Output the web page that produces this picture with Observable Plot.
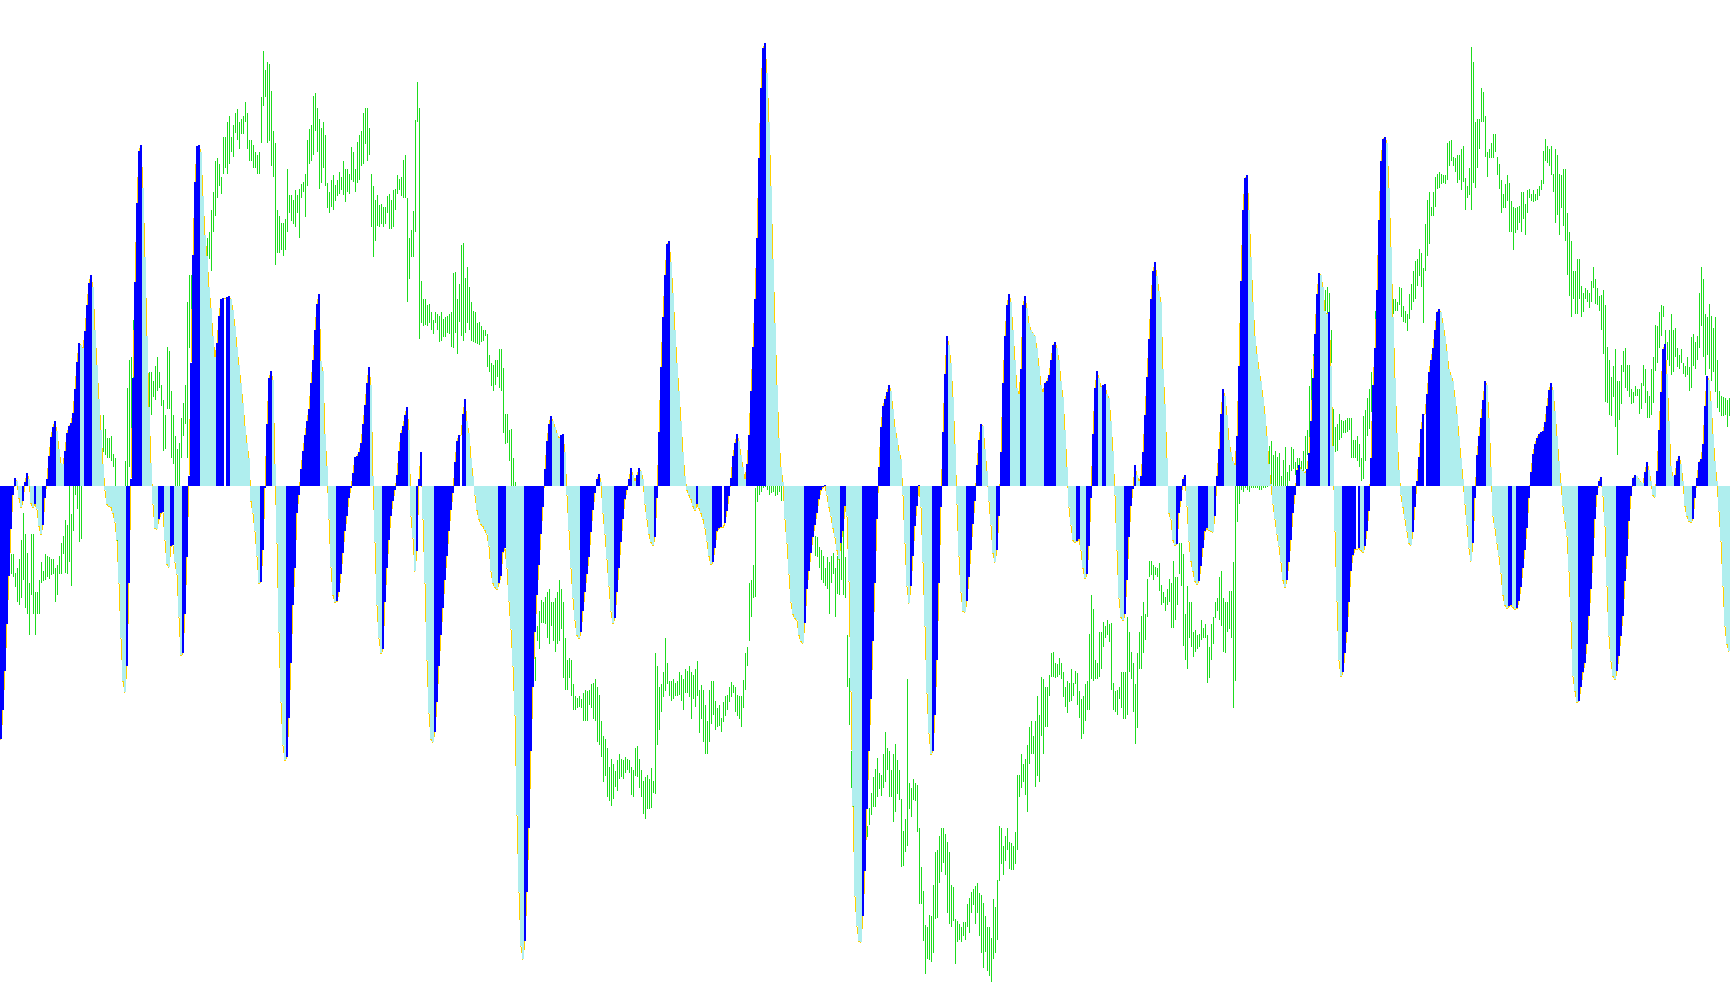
<!DOCTYPE html>
<html><head><meta charset="utf-8">
<script src="https://cdn.jsdelivr.net/npm/d3@7"></script>
<script src="https://cdn.jsdelivr.net/npm/@observablehq/plot@0.6"></script>
<style>html,body{margin:0;padding:0;background:#fff;overflow:hidden}svg{display:block}</style>
</head><body><div id="chart"></div>
<script>
// Oscillator histogram values, one per bar
const histogram = [
-253,-224,-185,-138,-90,-43,-9,8,5,-12,-21,-15,4,13,7,-17,-21,-18,-23,-40,
-48,-39,-12,7,30,49,59,65,55,37,23,22,35,53,60,63,73,97,124,143,
141,138,155,181,203,211,199,156,121,87,56,22,-4,-18,-20,-21,-27,-36,-54,-97,
-152,-195,-206,-180,-97,7,108,204,283,335,341,298,229,150,79,23,-18,-42,-43,-33,
-27,-26,-54,-78,-81,-60,-59,-76,-88,-131,-169,-167,-128,-71,10,123,231,304,340,341,
334,290,251,230,199,178,150,129,143,170,187,188,188,189,190,187,176,160,139,121,
103,83,60,43,28,-15,-27,-45,-70,-97,-96,-64,-2,62,108,115,106,22,-57,-146,
-216,-259,-274,-271,-232,-177,-119,-82,-27,-9,17,35,51,65,77,103,126,156,182,192,
125,115,52,20,-33,-81,-109,-116,-115,-106,-88,-67,-45,-30,-12,-2,13,29,30,34,
43,62,81,103,119,101,10,-56,-119,-152,-167,-163,-116,-82,-54,-30,-15,-4,11,35,
53,60,71,79,56,-30,-52,-85,-65,7,34,-33,-97,-174,-227,-253,-256,-246,-216,-180,
-149,-122,-94,-70,-45,-24,-7,24,45,51,51,72,87,65,53,28,10,-9,-24,-33,
-38,-40,-44,-48,-60,-85,-97,-101,-103,-97,-90,-66,-62,-82,-115,-143,-180,-229,-329,-406,
-460,-473,-455,-406,-342,-265,-201,-146,-109,-79,-48,-21,17,45,62,70,65,59,53,48,
51,52,34,-9,-44,-82,-112,-134,-149,-152,-146,-125,-106,-88,-71,-46,-24,-7,7,12,
4,-27,-48,-73,-100,-125,-137,-132,-106,-82,-56,-33,-13,-4,7,18,11,5,11,18,
15,7,-18,-33,-48,-56,-59,-51,-12,54,119,169,211,242,245,224,193,156,123,95,
65,34,10,-4,-9,-13,-20,-24,-18,-22,-27,-33,-42,-55,-70,-78,-76,-62,-45,-42,
-41,-41,-37,-25,-10,8,30,43,52,45,31,19,7,22,51,95,139,187,248,328,
398,438,443,413,364,300,227,163,101,48,19,4,-33,-57,-88,-116,-128,-132,-134,-149,
-155,-157,-137,-103,-85,-67,-51,-39,-27,-13,-4,-1,1,-9,-21,-30,-42,-51,-64,-73,
-57,-45,-20,-30,-95,-205,-320,-410,-440,-455,-456,-430,-385,-323,-265,-213,-155,-97,-33,19,
59,80,87,94,101,95,77,59,48,35,27,-9,-57,-100,-117,-100,-70,-40,-20,1,
-21,-76,-140,-207,-247,-268,-265,-229,-174,-97,-21,54,112,150,141,123,89,42,-18,-70,
-106,-125,-126,-115,-91,-64,-38,-15,21,46,62,60,37,15,-15,-39,-67,-76,-64,-30,
34,103,150,181,192,184,156,126,98,92,117,181,190,178,163,156,153,150,138,120,
101,94,103,105,111,126,141,144,138,126,105,89,56,19,-21,-39,-54,-56,-55,-53,
-64,-82,-92,-88,-60,-12,52,98,115,108,99,101,102,92,88,65,35,-9,-64,-112,
-131,-134,-128,-94,-51,-20,-3,21,11,5,10,34,71,109,147,187,215,224,210,195,
184,117,82,28,-27,-33,-54,-59,-58,-27,-15,7,11,-20,-55,-75,-85,-95,-98,-95,
-80,-62,-45,-42,-44,-45,-46,-30,10,37,72,97,90,71,46,34,25,21,50,120,
205,276,308,311,276,229,184,150,132,117,105,89,72,50,22,2,-18,-33,-48,-60,
-76,-94,-101,-94,-76,-54,-27,-9,16,21,17,15,13,17,33,65,108,152,192,213,
211,199,175,172,174,120,40,-45,-115,-174,-190,-186,-167,-146,-116,-85,-69,-63,-63,-62,
-64,-66,-60,-45,-25,28,101,138,196,266,325,347,349,343,298,239,169,108,53,16,
-9,-21,-33,-45,-57,-59,-46,-21,5,29,57,72,72,92,114,126,138,156,174,177,
174,163,150,135,117,111,105,89,72,50,28,7,-18,-39,-62,-75,-57,-12,31,50,
68,86,105,101,68,19,-30,-42,-57,-70,-87,-109,-119,-122,-120,-119,-121,-123,-122,-115,
-101,-82,-64,-42,-12,14,32,42,48,52,54,55,64,80,96,103,96,75,50,25,
3,-20,-35,-50,-85,-135,-190,-205,-216,-215,-201,-186,-177,-158,-130,-103,-70,-33,-9,5,
9,-10,-40,-100,-150,-175,-190,-193,-185,-170,-150,-130,-95,-70,-35,-10,8,11,10,7,
4,3,14,24,16,5,-9,-11,15,56,94,137,142,112,65,20,10,11,25,30,
22,5,-20,-30,-35,-36,-33,-12,8,24,27,42,80,110,106,85,52,25,5,-25,
-55,-100,-140,-158,-165
];

// Price bars (overlay, price points), one high and one low per bar
const priceHigh = [
760,750,755,745,750,742,742,712,720,735,765,810,775,745,695,775,775,680,680,700,
730,715,743,740,738,734,734,720,724,740,760,772,798,790,880,808,900,880,900,890,
885,900,910,920,930,940,950,960,960,970,945,970,948,932,932,935,907,900,840,830,
840,850,895,1015,1060,1065,1125,1120,1130,1140,1130,1110,1100,1080,1040,1040,1025,1050,1065,1040,
1020,995,970,1082,1075,1010,970,935,915,925,965,990,1020,1155,1200,1200,1230,1250,1260,1270,
1270,1265,1265,1260,1270,1305,1335,1385,1390,1380,1360,1425,1425,1450,1460,1425,1445,1465,1470,1450,
1455,1460,1482,1465,1420,1420,1412,1400,1395,1400,1490,1565,1535,1548,1545,1500,1435,1415,1305,1295,
1285,1285,1290,1372,1330,1330,1322,1338,1330,1340,1348,1352,1364,1420,1438,1445,1492,1497,1472,1455,
1440,1450,1428,1350,1335,1355,1362,1347,1355,1368,1360,1385,1372,1372,1365,1408,1400,1372,1417,1428,
1435,1465,1473,1472,1440,1365,1345,1322,1330,1314,1315,1310,1310,1328,1332,1322,1338,1340,1362,1357,
1360,1388,1395,1325,1260,1272,1304,1452,1515,1472,1190,1160,1160,1150,1152,1138,1125,1138,1135,1132,
1138,1128,1130,1132,1135,1138,1202,1204,1160,1185,1248,1252,1195,1213,1180,1155,1140,1138,1120,1122,
1115,1110,1110,1102,1068,1055,1052,1060,1060,1078,1078,1047,972,972,945,947,900,860,820,770,
720,700,670,650,620,600,590,575,625,650,667,665,672,680,685,665,665,670,680,700,
685,665,605,570,572,570,530,510,507,510,505,515,520,518,520,530,532,538,525,512,
470,445,440,425,395,408,400,388,405,415,408,405,410,408,405,395,390,425,428,408,
390,372,378,382,375,392,372,580,560,525,530,550,605,565,535,535,538,532,535,550,
545,538,555,552,560,550,545,555,568,520,528,520,495,470,520,535,535,502,490,495,
475,500,510,512,525,533,528,525,512,510,510,536,580,590,695,700,725,850,900,900,
910,920,920,900,900,890,890,880,900,880,870,855,845,840,830,820,810,810,800,800,
790,790,790,790,780,775,800,772,770,755,750,740,720,738,730,740,745,720,740,750,
820,805,738,610,540,420,385,360,340,320,310,300,300,298,328,351,378,391,409,385,
381,415,452,425,420,390,415,432,405,390,342,290,310,538,368,360,375,368,365,295,
230,192,135,132,152,150,202,255,258,282,295,295,285,272,255,202,198,145,142,138,
132,140,140,170,180,190,195,200,205,188,185,172,150,132,132,115,178,165,210,298,
295,265,282,295,272,270,265,288,382,382,415,400,408,430,460,470,445,470,510,480,
542,538,525,525,545,580,582,565,562,572,565,550,525,535,532,555,532,552,548,518,
505,510,530,535,612,675,652,570,565,615,615,632,625,635,628,630,532,518,520,525,
550,550,550,640,615,582,565,530,580,615,642,665,645,702,732,732,725,722,720,728,
692,680,672,685,702,695,732,705,705,760,760,742,645,690,665,665,615,618,610,612,
635,622,628,610,590,628,640,665,670,705,715,670,665,665,682,682,730,905,900,900,
900,920,920,920,910,910,910,900,900,895,900,910,910,920,920,928,905,912,902,908,
870,897,917,877,888,918,915,893,900,900,895,912,935,945,1018,1045,1070,1100,1130,1150,
1160,1160,1175,1180,1170,1110,980,950,955,972,962,960,962,965,965,965,930,930,935,922,
900,968,978,998,1012,1040,1030,1140,1198,1252,1260,1250,1240,1220,1200,1180,1160,1160,1155,1180,
1178,1148,1140,1135,1168,1185,1205,1222,1225,1242,1235,1210,1282,1322,1335,1310,1335,1360,1365,1368,
1365,1363,1362,1415,1418,1420,1392,1390,1395,1395,1405,1410,1358,1345,1375,1572,1548,1450,1455,1455,
1505,1498,1460,1400,1405,1415,1430,1430,1392,1380,1355,1332,1348,1362,1350,1320,1310,1308,1310,1312,
1335,1335,1315,1338,1340,1332,1338,1332,1340,1345,1355,1402,1422,1410,1405,1410,1365,1405,1395,1365,
1362,1372,1372,1300,1270,1255,1205,1205,1225,1225,1182,1170,1178,1175,1170,1190,1212,1192,1178,1165,
1167,1175,1150,1082,1060,1032,1050,1078,1025,1025,1052,1075,1080,1052,1052,1012,1008,1018,1012,1012,
1022,1052,1045,1010,1002,1045,1065,1118,1115,1138,1150,1148,1110,1090,1110,1135,1110,1112,1080,1068,
1078,1055,1050,1065,1048,1098,1102,1090,1100,1170,1212,1192,1135,1130,1152,1132,1112,1130,1060,1010,
1002,1000,998,995,998
];
const priceLow = [
700,695,705,700,710,710,705,688,665,660,670,700,655,645,610,675,645,610,645,645,
695,698,700,705,702,708,710,665,675,710,710,742,712,710,730,690,780,840,817,762,
768,860,865,870,875,880,890,900,910,910,900,910,905,900,900,895,885,830,738,720,
730,740,750,820,885,930,1000,1040,1060,1070,1060,1040,1030,1000,975,970,1000,995,1010,1015,
985,912,915,980,980,900,890,830,830,840,900,935,955,900,1080,1080,1150,1170,1190,1200,
1210,1215,1220,1210,1225,1205,1270,1295,1325,1345,1332,1365,1375,1365,1380,1400,1392,1432,1420,1405,
1430,1430,1450,1405,1385,1385,1375,1375,1365,1365,1415,1475,1490,1415,1418,1378,1360,1215,1235,1235,
1240,1230,1240,1270,1300,1288,1282,1278,1300,1260,1325,1335,1294,1345,1380,1385,1395,1435,1400,1340,
1350,1375,1345,1308,1300,1310,1305,1320,1328,1332,1338,1330,1318,1335,1332,1355,1352,1335,1350,1355,
1378,1380,1413,1385,1395,1278,1228,1255,1280,1278,1282,1278,1282,1300,1275,1275,1278,1305,1332,1338,
1328,1325,1325,1155,1192,1228,1228,1270,1450,1095,1120,1115,1117,1115,1120,1110,1103,1120,1110,1090,
1092,1098,1098,1104,1102,1082,1080,1105,1070,1122,1100,1092,1105,1120,1110,1092,1090,1088,1087,1085,
1090,1092,1100,1048,1040,1018,1010,1020,1032,1015,1010,940,922,924,895,800,770,730,700,660,
620,600,590,570,550,540,530,535,600,588,630,630,628,605,595,625,600,582,595,600,
620,540,520,520,540,510,488,487,490,492,490,470,470,470,495,490,472,470,435,430,
410,370,380,345,338,330,342,362,355,375,378,375,385,390,385,348,345,380,378,360,
345,318,310,325,325,328,352,350,430,455,485,508,518,530,510,502,505,510,510,512,
502,488,515,515,508,472,505,492,510,450,472,435,415,415,435,465,480,455,460,462,
452,468,478,488,500,508,515,485,478,472,460,490,520,560,600,640,670,672,828,840,
845,850,852,848,840,842,845,838,840,845,830,835,805,770,740,720,700,690,680,670,
670,660,670,700,720,745,772,740,738,720,700,695,690,685,645,695,710,640,678,675,
700,675,670,525,463,360,327,300,280,270,265,260,265,279,299,315,329,329,345,358,
347,360,370,390,345,345,305,320,350,340,230,232,255,265,325,312,340,338,288,170,
170,110,55,80,78,75,90,145,148,205,222,238,218,155,138,132,142,72,108,112,
108,118,112,132,122,155,168,138,155,118,90,65,92,60,52,42,80,90,112,208,
235,218,240,258,228,225,225,235,258,345,360,370,348,320,400,415,415,362,380,370,
445,415,460,460,510,542,542,540,542,545,538,508,492,482,500,502,510,530,495,475,
440,448,470,488,488,538,535,538,538,542,555,590,605,610,598,520,488,485,480,505,
490,472,472,480,550,538,485,432,458,555,555,580,602,640,705,708,700,708,705,682,
660,662,650,660,665,622,622,635,660,710,690,592,570,555,605,590,575,582,588,590,
602,605,605,532,540,570,595,638,650,635,625,582,580,615,620,605,490,535,795,825,
848,845,850,848,845,850,850,850,850,848,848,850,850,852,855,855,840,840,830,820,
810,800,800,800,862,878,882,872,875,875,875,878,882,905,922,960,995,1020,1040,1060,
1080,1100,1135,1130,1125,1055,920,910,912,930,932,940,940,942,945,900,900,900,895,885,
862,865,895,935,948,975,1000,1080,1100,1165,1180,1170,1160,1150,1140,1130,1135,1140,1140,1150,
1130,1122,1120,1108,1128,1142,1155,1160,1182,1198,1180,1120,1205,1230,1250,1295,1295,1310,1340,1342,
1348,1350,1348,1355,1378,1385,1378,1368,1350,1355,1338,1352,1305,1325,1330,1305,1350,1342,1375,1405,
1450,1450,1392,1360,1390,1390,1390,1400,1362,1340,1300,1308,1308,1320,1270,1270,1240,1268,1272,1285,
1270,1290,1265,1300,1325,1320,1318,1320,1322,1328,1338,1348,1385,1382,1378,1362,1335,1285,1298,1265,
1308,1280,1255,1200,1165,1130,1160,1135,1135,1160,1130,1138,1160,1155,1145,1155,1178,1152,1150,1140,
1110,1070,992,990,970,968,1000,950,905,962,988,1040,1015,1010,1000,988,990,1002,1002,972,
980,1018,990,965,965,970,990,1042,1055,1080,1100,1130,1080,1060,1050,1035,1040,1065,1048,1045,
1055,1038,1032,1035,1010,1015,1050,1045,1060,1080,1115,1065,1035,1068,1045,1025,1040,1008,982,975,
968,968,970,950,968
];

// The price overlay shares the oscillator's vertical axis through a linear mapping
const PRICE_AT_ZERO = 854, PRICE_PER_UNIT = 1.636;
const toOsc = p => (p - PRICE_AT_ZERO) / PRICE_PER_UNIT;

const data = histogram.map((v, i) => {
  const prev = i ? histogram[i - 1] : -Infinity;
  return {i, v, dir: v > prev ? "up" : v < prev ? "down" : "flat", hi: priceHigh[i], lo: priceLow[i]};
});

const chart = Plot.plot({
  width: 1730, height: 1005, margin: 0,
  x: {domain: [0, histogram.length], axis: null},
  y: {domain: [-519, 486], axis: null},
  style: "background:#fff; shape-rendering:crispEdges;",
  marks: [
    // price bars: one-pixel-wide high-low bars in the right half of each slot
    Plot.rect(data, {x1: d => d.i + 0.5, x2: d => d.i + 1, y1: d => toOsc(d.lo), y2: d => toOsc(d.hi), fill: "#1EDC1E"}),
    Plot.line(data, {x: d => d.i + 0.25, y: "v", stroke: "#FFD000", strokeWidth: 1}),
    Plot.rect(data.filter(d => d.dir === "down"), {x1: "i", x2: d => d.i + 1, y1: d => 0, y2: "v", fill: "#AFEEEE"}),
    Plot.rect(data.filter(d => d.dir === "up"), {x1: "i", x2: d => d.i + 1, y1: d => 0, y2: "v", fill: "#0000FF"})
  ]
});
document.getElementById("chart").append(chart);
</script></body></html>
